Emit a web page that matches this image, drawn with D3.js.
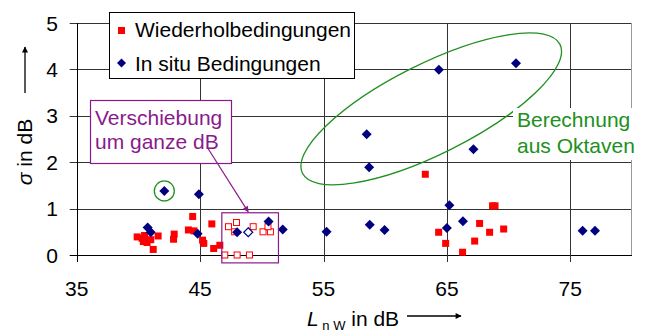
<!DOCTYPE html>
<html>
<head>
<meta charset="utf-8">
<script src="https://cdn.jsdelivr.net/npm/d3@7"></script>
<style>
  body { margin: 0; background: #fff; }
  svg text { font-family: "Liberation Sans", Arial, sans-serif; }
</style>
</head>
<body>
<svg id="chart" width="649" height="332"></svg>
<script>
// Wiederholbedingungen (red squares)
var redX = [39.9, 40.3, 40.4, 40.7, 41.2, 41.6, 40.5, 41.0, 42.9, 42.85, 44.4, 44.05, 44.5, 45.2, 45.3,
            45.95, 46.1, 46.6, 63.25, 68.7, 68.9, 64.33, 64.9, 66.27, 67.65, 67.25, 68.46, 69.6];
var redY = [0.39, 0.36, 0.29, 0.27, 0.12, 0.41, 0.42, 0.33, 0.45, 0.34, 0.83, 0.54, 0.52, 0.32, 0.25,
            0.67, 0.14, 0.21, 1.74, 1.06, 1.06, 0.49, 0.25, 0.06, 0.68, 0.30, 0.49, 0.56];
// shifted values (hollow squares)
var shiftX = [47.3, 47.95, 47.8, 49.3, 50.1, 50.7, 50.5, 47, 48, 49];
var shiftY = [0.61, 0.70, 0.50, 0.61, 0.50, 0.50, 0.61, 0.0, 0.0, 0.0];
// In situ Bedingungen (blue diamonds)
var blueX = [42.1, 44.9, 40.75, 41.0, 44.8, 48.0, 50.55, 51.7, 55.25, 58.5, 58.7, 58.75, 59.95,
             64.35, 70.6, 67.15, 65.2, 65.0, 66.3, 76.0, 77.0];
var blueY = [1.38, 1.31, 0.59, 0.49, 0.46, 0.49, 0.72, 0.55, 0.50, 2.60, 1.89, 0.65, 0.54,
             3.99, 4.13, 2.28, 1.07, 0.58, 0.73, 0.52, 0.52];
var blueHollowX = [48.9];
var blueHollowY = [0.49];

var xTicks = [35, 45, 55, 65, 75];
var yTicks = [0, 1, 2, 3, 4, 5];

var svg = d3.select("#chart");
var x = d3.scaleLinear().domain([35, 80]).range([76.7, 632]);
var y = d3.scaleLinear().domain([0, 5]).range([255, 23]);

var green = "#209020", purple = "#8a1a8a";
var fs = 21;

var diamondPath = function(r) {
  return "M0," + (-r) + "L" + r + ",0L0," + r + "L" + (-r) + ",0Z";
};

// grid
svg.append("g").selectAll("line").data(yTicks).enter().append("line")
  .attr("x1", x(35) - 7).attr("x2", x(80))
  .attr("y1", function(d) { return Math.round(y(d)) + 0.5; })
  .attr("y2", function(d) { return Math.round(y(d)) + 0.5; })
  .attr("stroke", function(d) { return d == 0 ? "#000" : "#333"; });

svg.append("g").selectAll("line").data(xTicks).enter().append("line")
  .attr("x1", function(d) { return Math.round(x(d)) + 0.5; })
  .attr("x2", function(d) { return Math.round(x(d)) + 0.5; })
  .attr("y1", y(5)).attr("y2", y(0) + 7)
  .attr("stroke", function(d) { return d == 35 ? "#000" : "#333"; });

svg.append("line").attr("x1", x(80) - 0.5).attr("x2", x(80) - 0.5)
  .attr("y1", y(5)).attr("y2", y(0)).attr("stroke", "#999");

// tick labels
svg.append("g").selectAll("text").data(xTicks).enter().append("text")
  .attr("x", function(d) { return x(d); }).attr("y", 296)
  .attr("text-anchor", "middle").attr("font-size", fs)
  .text(function(d) { return d; });

svg.append("g").selectAll("text").data(yTicks).enter().append("text")
  .attr("x", 52).attr("y", function(d) { return y(d) + 7.5; })
  .attr("text-anchor", "middle").attr("font-size", fs)
  .text(function(d) { return d; });

// axis titles
var yl = svg.append("text").attr("transform", "translate(32,152) rotate(-90)")
  .attr("text-anchor", "middle").attr("font-size", fs);
yl.append("tspan").attr("font-style", "italic").text("σ");
yl.append("tspan").text(" in dB");

svg.append("defs").append("marker").attr("id", "ah")
  .attr("viewBox", "0 0 10 10").attr("refX", 9).attr("refY", 5)
  .attr("markerWidth", 8).attr("markerHeight", 6).attr("orient", "auto")
  .attr("markerUnits", "userSpaceOnUse")
  .append("path").attr("d", "M0,0 L10,5 L0,10 Z").attr("fill", "#000");

svg.append("line").attr("x1", 25).attr("x2", 25).attr("y1", 93).attr("y2", 47)
  .attr("stroke", "#000").attr("stroke-width", 1.3).attr("marker-end", "url(#ah)");

var xl = svg.append("text").attr("x", 307).attr("y", 326).attr("font-size", fs);
xl.append("tspan").attr("font-style", "italic").text("L");
xl.append("tspan").attr("font-size", 13).attr("dy", 4).text(" n W");
xl.append("tspan").attr("dy", -4).text(" in dB");

svg.append("line").attr("x1", 407).attr("x2", 461).attr("y1", 316).attr("y2", 316)
  .attr("stroke", "#000").attr("stroke-width", 1.3).attr("marker-end", "url(#ah)");

// marks
svg.append("g").selectAll("rect").data(redX).enter().append("rect")
  .attr("x", function(d) { return x(d) - 3.5; })
  .attr("y", function(d, i) { return y(redY[i]) - 3.5; })
  .attr("width", 7).attr("height", 7).attr("fill", "#ff0000");

svg.append("g").selectAll("rect").data(shiftX).enter().append("rect")
  .attr("x", function(d) { return x(d) - 3; })
  .attr("y", function(d, i) { return y(shiftY[i]) - 3; })
  .attr("width", 6).attr("height", 6).attr("fill", "#fff").attr("stroke", "#ff0000");

svg.append("g").selectAll("path").data(blueX).enter().append("path")
  .attr("d", diamondPath(5))
  .attr("transform", function(d, i) { return "translate(" + x(d) + "," + y(blueY[i]) + ")"; })
  .attr("fill", "#000080");

svg.append("g").selectAll("path").data(blueHollowX).enter().append("path")
  .attr("d", diamondPath(4.5))
  .attr("transform", function(d, i) { return "translate(" + x(d) + "," + y(blueHollowY[i]) + ")"; })
  .attr("fill", "#fff").attr("stroke", "#000080").attr("stroke-width", 1.2);

// annotations
svg.append("ellipse").attr("cx", x(63.73)).attr("cy", y(3.15)).attr("rx", 144).attr("ry", 45)
  .attr("transform", "rotate(-26.6," + x(63.73) + "," + y(3.15) + ")")
  .attr("fill", "none").attr("stroke", green).attr("stroke-width", 1.3);

svg.append("circle").attr("cx", x(42.1)).attr("cy", y(1.38)).attr("r", 10)
  .attr("fill", "none").attr("stroke", green).attr("stroke-width", 1.3);

svg.append("rect").attr("x", 513).attr("y", 108).attr("width", 136).attr("height", 52).attr("fill", "#fff");
svg.append("text").attr("x", 517).attr("y", 127).attr("font-size", fs).attr("fill", green).text("Berechnung");
svg.append("text").attr("x", 517).attr("y", 153).attr("font-size", fs).attr("fill", green).text("aus Oktaven");

svg.append("rect").attr("x", x(46.76)).attr("y", y(0.91))
  .attr("width", x(51.35) - x(46.76)).attr("height", y(-0.17) - y(0.91))
  .attr("fill", "none").attr("stroke", purple).attr("stroke-width", 1.2);

svg.append("rect").attr("x", 90.5).attr("y", 100.5).attr("width", 141).attr("height", 63)
  .attr("fill", "#fff").attr("stroke", purple).attr("stroke-width", 1.2);
svg.append("text").attr("x", 95).attr("y", 125).attr("font-size", fs).attr("fill", purple).text("Verschiebung");
svg.append("text").attr("x", 95).attr("y", 149).attr("font-size", fs).attr("fill", purple).text("um ganze dB");

svg.append("defs").append("marker").attr("id", "ahp")
  .attr("viewBox", "0 0 10 10").attr("refX", 9).attr("refY", 5)
  .attr("markerWidth", 8).attr("markerHeight", 6).attr("orient", "auto")
  .attr("markerUnits", "userSpaceOnUse")
  .append("path").attr("d", "M0,0 L10,5 L0,10 Z").attr("fill", purple);
svg.append("line").attr("x1", 207.7).attr("y1", 148).attr("x2", x(48.9)).attr("y2", y(0.93))
  .attr("stroke", purple).attr("stroke-width", 1.2).attr("marker-end", "url(#ahp)");

// legend
svg.append("rect").attr("x", 109.5).attr("y", 12.5).attr("width", 245).attr("height", 66)
  .attr("fill", "#fff").attr("stroke", "#000").attr("stroke-width", 1);
svg.append("rect").attr("x", 118).attr("y", 27).attr("width", 7).attr("height", 7).attr("fill", "#ff0000");
svg.append("path").attr("d", diamondPath(4.5))
  .attr("transform", "translate(121.5,63)").attr("fill", "#000080");
svg.append("text").attr("x", 135).attr("y", 37).attr("font-size", fs).text("Wiederholbedingungen");
svg.append("text").attr("x", 135).attr("y", 71).attr("font-size", fs).text("In situ Bedingungen");
</script>
</body>
</html>
